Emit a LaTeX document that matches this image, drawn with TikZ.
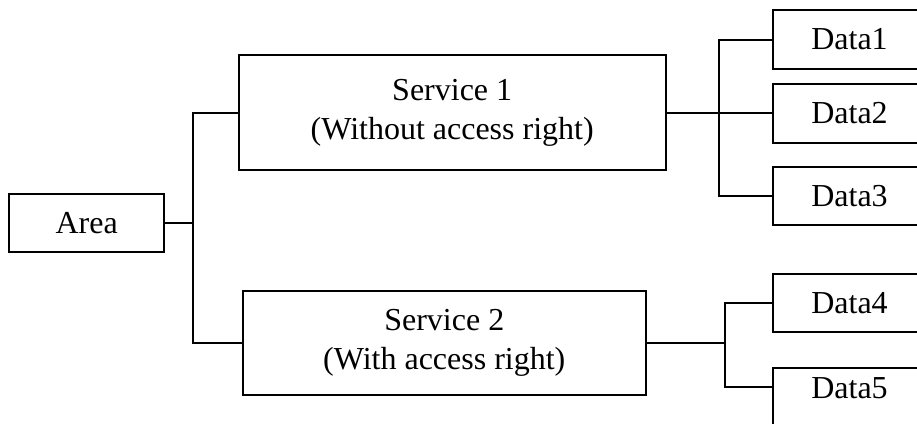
\documentclass[tikz,border=0pt]{standalone}
\usepackage{fontspec}
\setmainfont{Liberation Serif}
\begin{document}
\begin{tikzpicture}[x=1pt,y=-1pt,
  box/.style={draw, rectangle, line width=2pt, inner sep=0pt, align=center,
    font=\fontsize{32}{39}\selectfont},
  conn/.style={line width=2pt}]
\useasboundingbox (0,0) rectangle (917,423);
\clip (0,0) rectangle (917,423);
\node[box, minimum width=154.7pt, minimum height=58pt] (area) at (86.7,223) {Area};
\node[box, minimum width=427pt, minimum height=115pt] (s1) at (452.2,112.5) {Service 1\\(Without access right)};
\node[box, minimum width=403.3pt, minimum height=104pt] (s2) at (444.3,342.7) {Service 2\\(With access right)};
\node[box, minimum width=153pt, minimum height=58.4pt] (d1) at (849.5,39.5) {Data1};
\node[box, minimum width=153pt, minimum height=59pt] (d2) at (849.5,113.5) {Data2};
\node[box, minimum width=153pt, minimum height=58pt] (d3) at (849.5,196) {Data3};
\node[box, minimum width=153pt, minimum height=58pt] (d4) at (849.5,302.7) {Data4};
\node[box, minimum width=153pt, minimum height=58pt, text depth=18pt] (d5) at (849.5,397) {Data5};
\coordinate (j1) at (193,223);
\coordinate (j2) at (719,116);
\coordinate (j3) at (725,342.7);
\coordinate (j4) at (725,387);
\draw[conn] (area.east) -- (j1);
\draw[conn] (s1.west) -| (j1) |- (s2.west);
\draw[conn] (s1.east) -- (s1.east -| d2.west);
\draw[conn] (d1.west) -| (j2) |- (d3.west);
\draw[conn] (s2.east) -- (j3);
\draw[conn] (d4.west) -| (j3) -- (j4) -- (j4 -| d5.west);
\end{tikzpicture}
\end{document}
